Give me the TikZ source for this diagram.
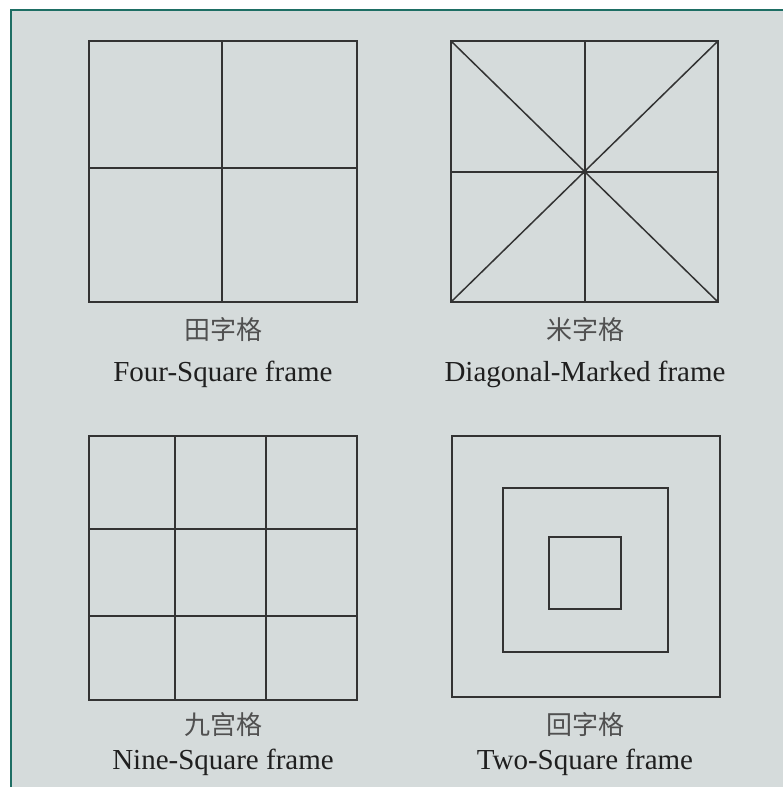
\documentclass[tikz,border=0pt]{standalone}
\usepackage{fontspec}
\setmainfont{Liberation Serif}
\newfontfamily\cjk{Noto Sans CJK SC}
\usepackage{xcolor}
\definecolor{panelbg}{HTML}{D5DBDB}
\definecolor{rimgreen}{HTML}{1E6E64}
\definecolor{gridline}{HTML}{333333}
\definecolor{hanzigray}{HTML}{505050}
\tikzset{
  gridframe/.style={gridline,line width=1.5pt},
  hanzi/.style={hanzigray,font=\cjk\fontsize{26}{28}\selectfont},
  caption/.style={black!88,anchor=base,font=\fontsize{29}{32}\selectfont}
}

\begin{document}
\begin{tikzpicture}[x=1pt,y=-1pt]
  \useasboundingbox (0,0) rectangle (783,787);
  \fill[panelbg] (11,10) rectangle (783,787);
  \draw[rimgreen,line width=2pt] (11,787) -- (11,10) -- (783,10);
  % four-square frame
  \draw[gridframe] (89,41) rectangle (357,302);
  \draw[gridframe] (222,41) -- (222,302);
  \draw[gridframe] (89,168) -- (357,168);
  % diagonal-marked frame
  \draw[gridframe] (451,41) rectangle (718,302);
  \draw[gridframe] (585,41) -- (585,302);
  \draw[gridframe] (451,172) -- (718,172);
  \draw[gridframe] (451,41) -- (718,302);
  \draw[gridframe] (718,41) -- (451,302);
  \fill[gridline] (585,172) circle (2.5);
  % nine-square frame
  \draw[gridframe] (89,436) rectangle (357,700);
  \foreach \x in {175,266} {
    \draw[gridframe] (\x,436) -- (\x,700);
  }
  \foreach \y in {529,616} {
    \draw[gridframe] (89,\y) -- (357,\y);
  }
  % two-square frame
  \draw[gridframe] (452,436) rectangle (720,697);
  \draw[gridframe] (503,488) rectangle (668,652);
  \draw[gridframe] (549,537) rectangle (621,609);
  % labels
  \node[hanzi] (tianzi) at (223,330) {田字格};
  \node[caption] (tianen) at (223,381) {Four-Square frame};
  \node[hanzi] (mizi) at (585,330) {米字格};
  \node[caption] (mien) at (585,381) {Diagonal-Marked frame};
  \node[hanzi] (jiugong) at (223,725) {九宫格};
  \node[caption] (jiuen) at (223,769) {Nine-Square frame};
  \node[hanzi] (huizi) at (585,725) {回字格};
  \node[caption] (huien) at (585,769) {Two-Square frame};
\end{tikzpicture}
\end{document}
